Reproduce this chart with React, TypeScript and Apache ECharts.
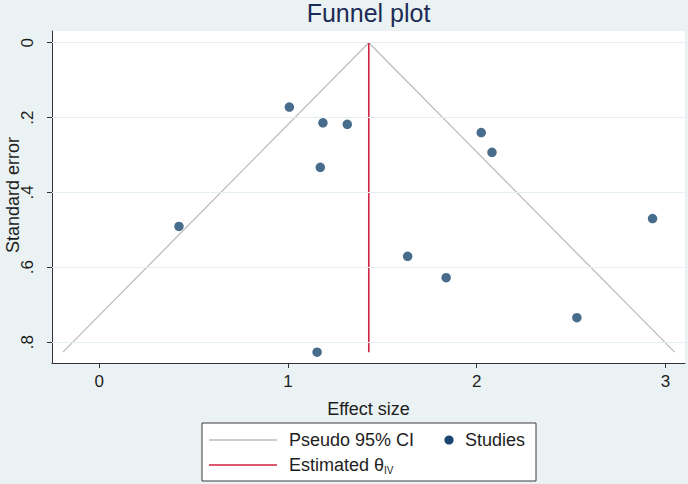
import React, { useEffect, useRef } from "react";
import * as echarts from "echarts";

// ---- data ----
const xTicks = [0, 1, 2, 3];
const yTicks = [0, 0.2, 0.4, 0.6, 0.8];
const yTickLabels = ["0", ".2", ".4", ".6", ".8"];

const effectSize = [1.007, 1.185, 1.314, 1.171, 0.422, 2.024, 2.081, 2.932, 1.634, 1.838, 2.531, 1.154];
const stdError = [0.172, 0.214, 0.218, 0.333, 0.491, 0.24, 0.293, 0.47, 0.571, 0.628, 0.735, 0.827];

const thetaIV = 1.428;
const seMax = 0.827;
const funnelX = [-0.193, 1.428, 3.049];
const funnelY = [0.827, 0, 0.827];

const FONT = "'Liberation Sans', Arial, sans-serif";
const NAVY = "#1a476f";
const RED = "#d2203f";
const GRAY = "#bdbdbd";
const TXT = "#1e1e1e";

export default function App() {
  const ref = useRef<HTMLDivElement>(null);
  useEffect(() => {
    if (!ref.current) return;
    const chart = echarts.init(ref.current, undefined, { renderer: "svg" });
    const studies = effectSize.map((x, i) => [x, stdError[i]]);
    const funnel = funnelX.map((x, i) => [x, funnelY[i]]);
    const estLine = [
      [thetaIV, 0],
      [thetaIV, seMax],
    ];
    chart.setOption({
      animation: false,
      backgroundColor: "#eaf2f3",
      textStyle: { fontFamily: FONT },
      grid: {
        left: 52,
        right: 3,
        top: 31,
        bottom: 121,
        show: true,
        backgroundColor: "#ffffff",
        borderWidth: 0,
        containLabel: false,
        outerBoundsMode: "none",
      },
      xAxis: {
        type: "value",
        min: -0.251,
        max: 3.104,
        name: "Effect size",
        nameLocation: "middle",
        nameGap: 37,
        nameTextStyle: { fontSize: 18, color: TXT, fontFamily: FONT },
        axisLine: { show: true, onZero: false, lineStyle: { color: "#333", width: 1 } },
        axisTick: { show: true, customValues: xTicks, length: 5, lineStyle: { color: "#333" } },
        axisLabel: {
          customValues: xTicks,
          fontSize: 17,
          color: TXT,
          margin: 10,
          fontFamily: FONT,
          formatter: (v: number) => String(v),
        },
        splitLine: { show: false },
      },
      yAxis: {
        type: "value",
        inverse: true,
        min: -0.0313,
        max: 0.856,
        axisLine: { show: true, onZero: false, lineStyle: { color: "#333", width: 1 } },
        axisTick: { show: true, customValues: yTicks, length: 5, lineStyle: { color: "#333" } },
        axisLabel: {
          customValues: yTicks,
          rotate: 90,
          fontSize: 17,
          color: TXT,
          margin: 16,
          fontFamily: FONT,
          formatter: (v: number) => {
            const i = yTicks.findIndex((t) => Math.abs(t - v) < 1e-6);
            return i >= 0 ? yTickLabels[i] : "";
          },
        },
        splitLine: { show: false },
      },
      series: [
        {
          type: "line",
          data: [],
          silent: true,
          z: 1,
          markLine: {
            silent: true,
            symbol: "none",
            label: { show: false },
            lineStyle: { color: "#e4eff1", type: "solid", width: 1.2 },
            data: yTicks.map((v) => ({ yAxis: v })),
          },
        },
        {
          name: "Pseudo 95% CI",
          type: "line",
          data: funnel,
          showSymbol: false,
          symbol: "none",
          lineStyle: { color: GRAY, width: 1.3 },
          z: 2,
        },
        {
          name: "Estimated",
          type: "line",
          data: estLine,
          showSymbol: false,
          symbol: "none",
          lineStyle: { color: RED, width: 1.6 },
          z: 3,
        },
        {
          name: "Studies",
          type: "scatter",
          data: studies,
          symbol: "circle",
          symbolSize: 9.5,
          itemStyle: { color: NAVY },
          z: 4,
        },
      ],
      graphic: [
        {
          type: "text",
          x: 368.5,
          y: 13,
          style: {
            text: "Funnel plot",
            align: "center",
            verticalAlign: "middle",
            fontSize: 25,
            fontFamily: FONT,
            fill: "#1c2b55",
          },
        },
        {
          type: "text",
          x: 13,
          y: 195,
          rotation: Math.PI / 2,
          style: {
            text: "Standard error",
            align: "center",
            verticalAlign: "middle",
            fontSize: 18,
            fontFamily: FONT,
            fill: TXT,
          },
        },
        {
          type: "rect",
          shape: { x: 202, y: 423, width: 334, height: 58 },
          style: { fill: "#ffffff", stroke: "#3a3a3a", lineWidth: 1 },
        },
        {
          type: "line",
          shape: { x1: 209, y1: 440, x2: 277, y2: 440 },
          style: { stroke: GRAY, lineWidth: 1.3 },
        },
        {
          type: "text",
          x: 289,
          y: 440,
          style: {
            text: "Pseudo 95% CI",
            verticalAlign: "middle",
            fontSize: 18,
            fontFamily: FONT,
            fill: TXT,
          },
        },
        {
          type: "circle",
          shape: { cx: 449, cy: 440, r: 4.6 },
          style: { fill: NAVY },
        },
        {
          type: "text",
          x: 465,
          y: 440,
          style: {
            text: "Studies",
            verticalAlign: "middle",
            fontSize: 18,
            fontFamily: FONT,
            fill: TXT,
          },
        },
        {
          type: "line",
          shape: { x1: 209, y1: 465, x2: 277, y2: 465 },
          style: { stroke: RED, lineWidth: 1.6 },
        },
        {
          type: "text",
          x: 289,
          y: 465,
          style: {
            text: "{m|Estimated θ}{s|IV}",
            verticalAlign: "middle",
            fontFamily: FONT,
            fill: TXT,
            rich: {
              m: { fontSize: 18, lineHeight: 20, fontFamily: FONT, fill: TXT },
              s: { fontSize: 10, lineHeight: 10, verticalAlign: "bottom", fontFamily: FONT, fill: TXT },
            },
          },
        },
      ],
    });
    return () => chart.dispose();
  }, []);
  return (
    <div
      ref={ref}
      style={{ position: "fixed", left: 0, top: 0, width: 688, height: 484 }}
    />
  );
}
